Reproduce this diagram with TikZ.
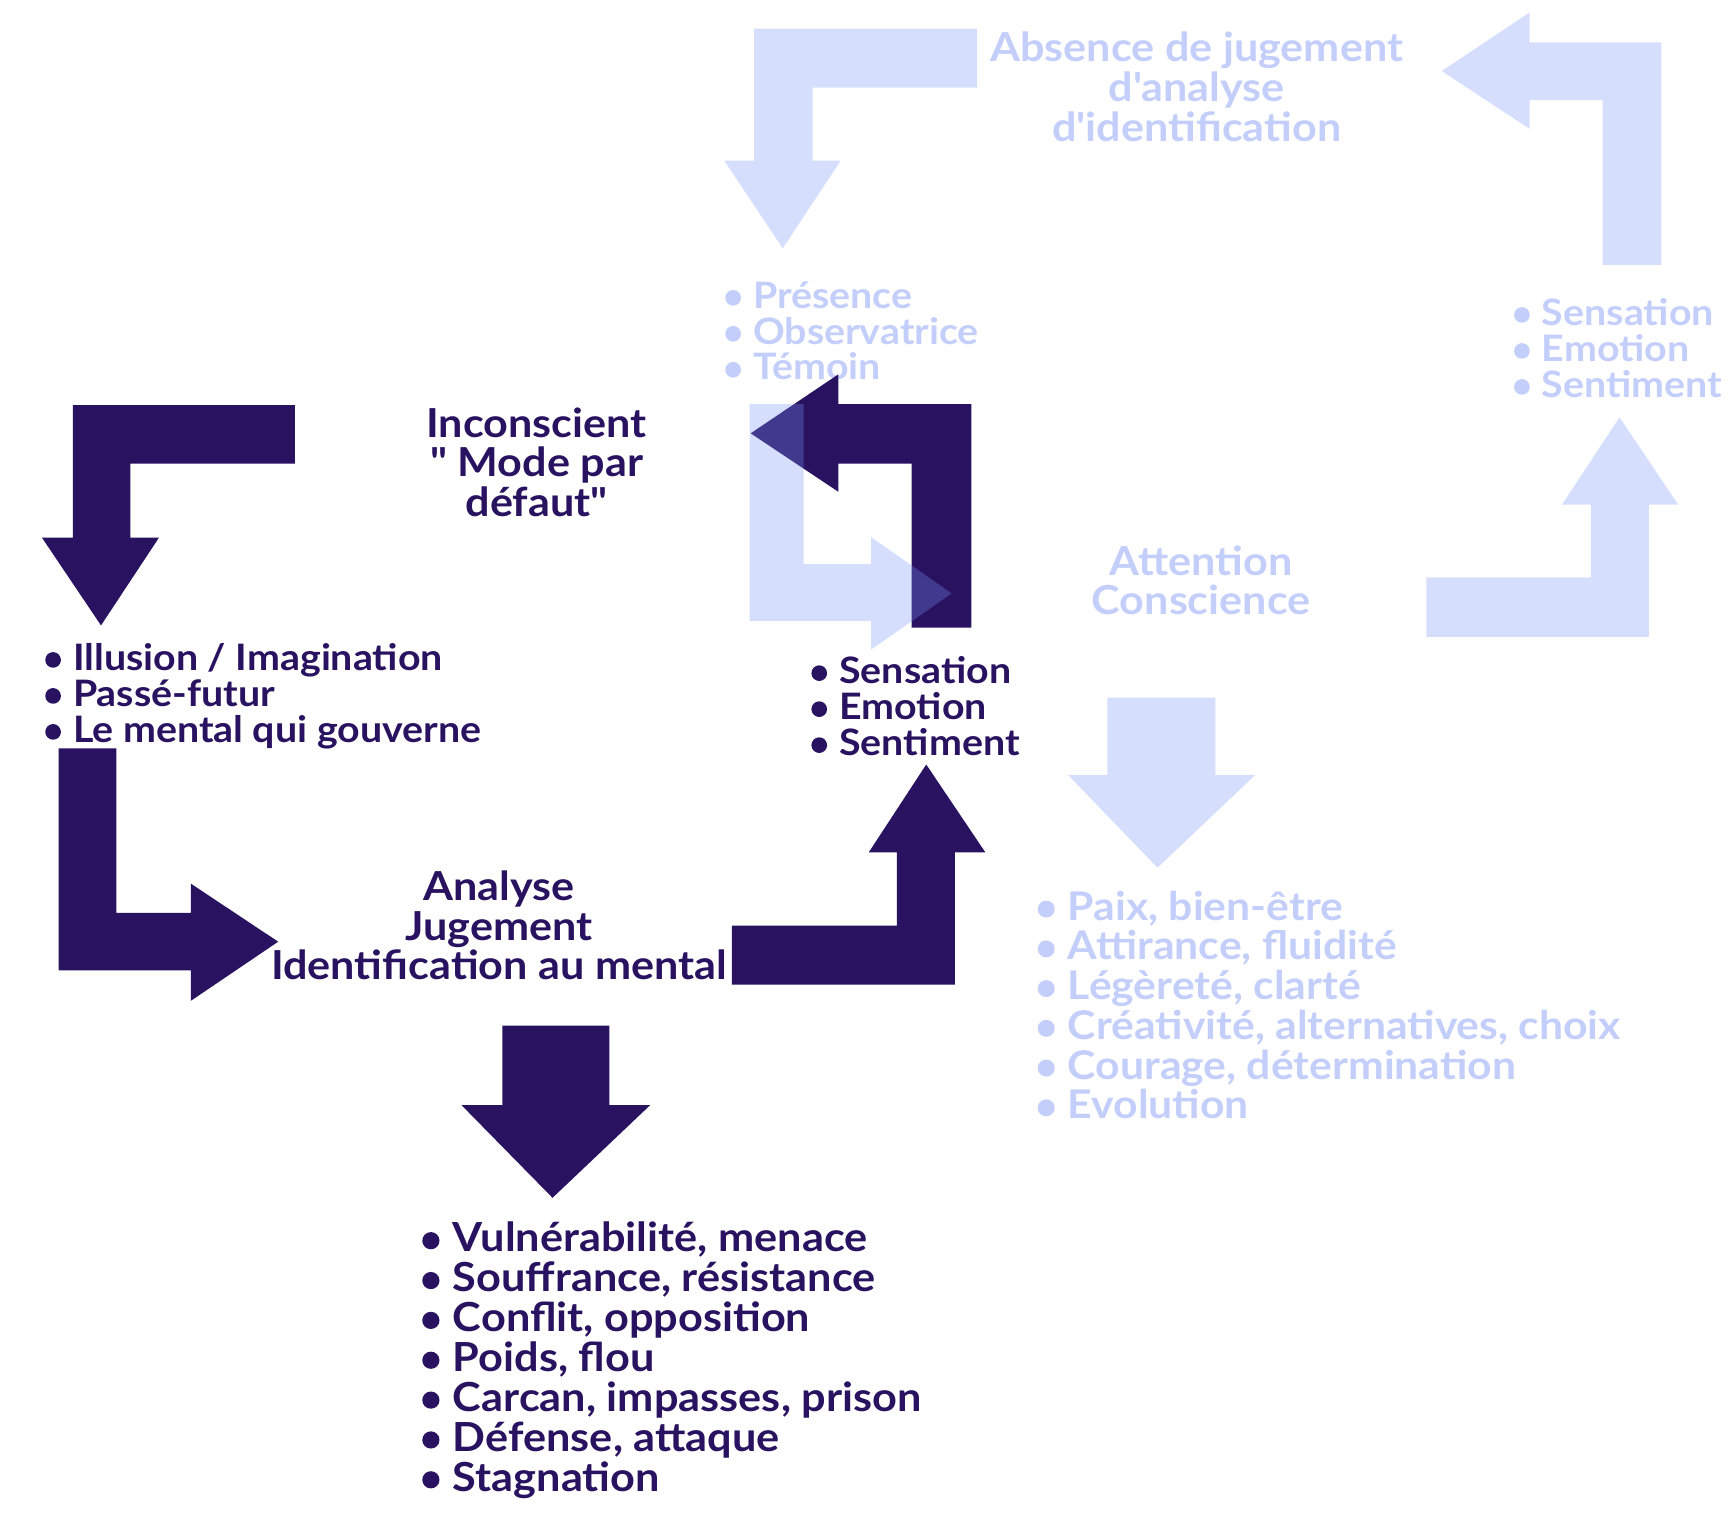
\documentclass[tikz,border=0pt]{standalone}
\usepackage{fontspec}
\setmainfont{Lato}[Ligatures=TeXOff, FakeStretch=1.08]
\definecolor{dk}{RGB}{41,19,97}
\definecolor{ltb}{RGB}{120,147,248}
\definecolor{lttxt}{RGB}{196,206,251}
\newcommand\bul{\tikz[baseline=0pt]\fill (0.215em,0.28em) circle[radius=0.215em];\hspace{0.335em}}
\newcommand\lstL[1]{\vtop{\let\\\cr\lineskiplimit=-\maxdimen\halign{##\hfil\cr#1\crcr}}}
\newcommand\lstC[1]{\vtop{\let\\\cr\lineskiplimit=-\maxdimen\halign{\hfil##\hfil\cr#1\crcr}}}
\begin{document}
\begin{tikzpicture}[x=0.5pt,y=-0.5pt,
  dkarrow/.style={fill=dk, draw=none},
  ltarrow/.style={fill=ltb, fill opacity=0.3, draw=none},
  txt/.style={inner sep=0pt, outer sep=0pt},
  fsmall/.style={font=\bfseries\fontsize{16.5}{16.3}\selectfont},
  fbig/.style={font=\bfseries\fontsize{18.15}{18.05}\selectfont},
  fbigb/.style={font=\bfseries\fontsize{17.9}{18}\selectfont},
  fhead/.style={font=\bfseries\fontsize{18.1}{18}\selectfont},
  dtx/.style={text=dk}, ltx/.style={text=lttxt},
  lst/.style={txt, anchor=base west},
  hd/.style={txt, anchor=base}]
\useasboundingbox (0,0) rectangle (1568,1372);

% texts
\node[lst,fsmall,dtx] (illusion) at (41,607) {\lstL{\bul Illusion / Imagination\\\bul Passé-futur\\\bul Le mental qui gouverne}};
\node[lst,fsmall,dtx] (sensD) at (735,619) {\lstL{\bul Sensation\\\bul Emotion\\\bul Sentiment}};
\node[lst,fsmall,ltx] (presence) at (657,279) {\lstL{\bul Présence\\\bul Observatrice\\\bul Témoin}};
\node[lst,fsmall,ltx] (sensL) at (1371.5,294.5) {\lstL{\bul Sensation\\\bul Emotion\\\bul Sentiment}};
\node[lst,fbig,dtx] (vuln) at (382.5,1134) {\lstL{\bul Vulnérabilité, menace\\\bul Souffrance, résistance\\\bul Conflit, opposition\\\bul Poids, flou\\\bul Carcan, impasses, prison\\\bul Défense, attaque\\\bul Stagnation}};
\node[lst,fbigb,ltx] (paix) at (940,833.5) {\lstL{\bul Paix, bien-être\\\bul Attirance, fluidité\\\bul Légèreté, clarté\\\bul Créativité, alternatives, choix\\\bul Courage, détermination\\\bul Evolution}};
\node[hd,fhead,dtx] (incons) at (486,396) {\lstC{Inconscient\\" Mode par\\défaut"}};
\node[hd,fhead,dtx] (analyse) at (452,815.5) {\lstC{Analyse\\Jugement\\Identification au mental}};
\node[hd,fhead,ltx] (absence) at (1084,56) {\lstC{Absence de jugement\\d'analyse\\d'identification}};
\node[hd,fhead,ltx] (attention) at (1088,521) {\lstC{Attention\\Conscience}};

% dark arrows
\fill[dkarrow] (267,367) -- (66,367) -- (66,487) -- (38,487) -- (91.5,566.5) -- (144,487) -- (118,487) -- (118,420) -- (267,420) -- cycle;
\fill[dkarrow] (53,678) -- (105.5,678) -- (105.5,827) -- (173,827) -- (173,800.5) -- (252,853) -- (173,906.5) -- (173,879) -- (53,879) -- cycle;
\fill[dkarrow] (663,838.5) -- (812.5,838.5) -- (812.5,772) -- (787,772) -- (839,692.5) -- (892.5,772) -- (865,772) -- (865,892) -- (663,892) -- cycle;
\fill[dkarrow] (455,929) -- (552,929) -- (552,1001) -- (589,1001) -- (500.5,1085) -- (418,1001) -- (455,1001) -- cycle;
\fill[dkarrow] (880,366) -- (759.5,366) -- (759.5,339) -- (680,392.5) -- (759.5,445.5) -- (759.5,420) -- (825.7,420) -- (825.7,568.5) -- (880,568.5) -- cycle;

% light arrows
\fill[ltarrow] (679,366) -- (728,366) -- (728,511) -- (789,511) -- (789,486.5) -- (862,537.5) -- (789,588.5) -- (789,562.5) -- (679,562.5) -- cycle;
\fill[ltarrow] (885,26) -- (683,26) -- (683,145.5) -- (656,145.5) -- (709,225) -- (761.5,145.5) -- (736,145.5) -- (736,79.4) -- (885,79.4) -- cycle;
\fill[ltarrow] (1505,240) -- (1451.6,240) -- (1451.6,90.6) -- (1385.6,90.6) -- (1385.6,116.8) -- (1306,64.3) -- (1385.6,11.2) -- (1385.6,38.4) -- (1505,38.4) -- cycle;
\fill[ltarrow] (1292,523) -- (1441,523) -- (1441,457) -- (1415,457) -- (1467,378) -- (1520,457) -- (1493.5,457) -- (1493.5,577) -- (1292,577) -- cycle;
\fill[ltarrow] (1003,632) -- (1101,632) -- (1101,702) -- (1137,702) -- (1048.5,786) -- (967.5,702) -- (1003,702) -- cycle;
\end{tikzpicture}
\end{document}
